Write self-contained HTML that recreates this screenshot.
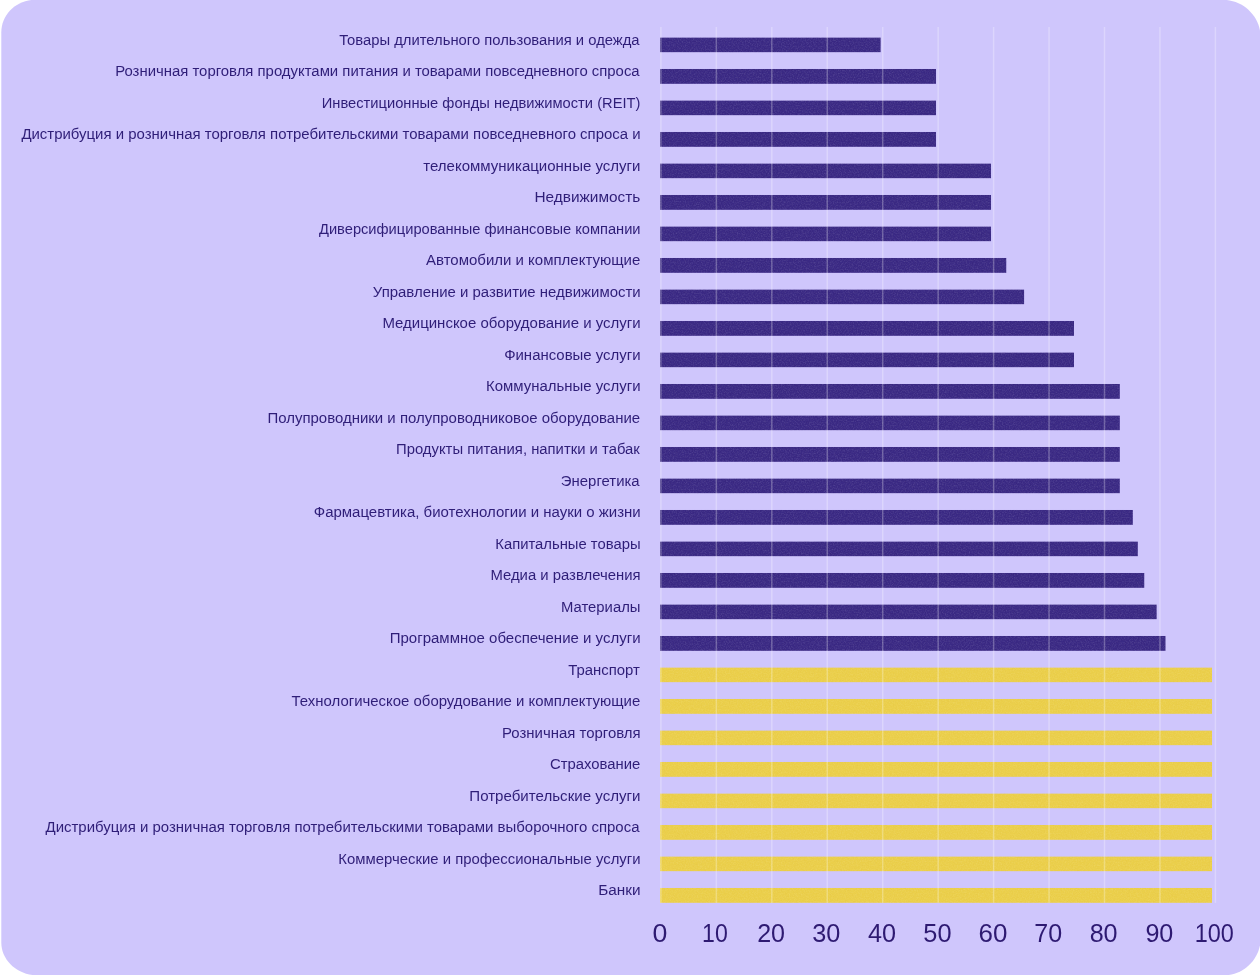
<!DOCTYPE html>
<html lang="ru">
<head>
<meta charset="utf-8">
<title>Chart</title>
<style>
html,body{margin:0;padding:0;background:#fff;}
body{width:1260px;height:975px;overflow:hidden;position:relative;}
svg{position:absolute;left:0;top:0;}
text{font-family:"Liberation Sans",sans-serif;}
.lb{font-size:15.2px;fill:#2F1E78;}
.ax{font-size:25.3px;fill:#2E1A72;}
</style>
</head>
<body>
<svg width="1260" height="975" viewBox="0 0 1260 975">
<path d="M35.30 -0.20 L1222.70 -0.20 C1243.69 -0.20 1260.70 16.81 1260.70 37.80 L1260.70 937.90 C1260.70 958.61 1243.91 975.40 1223.20 975.40 L38.30 975.40 C17.86 975.40 1.30 960.63 1.30 942.40 L1.30 32.30 C1.30 14.35 16.52 -0.20 35.30 -0.20 Z" fill="#CFC6FC"/>
<defs><filter id="grainD" x="0" y="0" width="100%" height="100%" color-interpolation-filters="sRGB"><feTurbulence type="fractalNoise" baseFrequency="0.75" numOctaves="2" seed="7" result="t"/><feColorMatrix in="t" type="matrix" values="0 0 0 0 1  0 0 0 0 1  0 0 0 0 1  0.24 0 0 0 -0.1" result="w"/><feColorMatrix in="t" type="matrix" values="0 0 0 0 0.1  0 0 0 0 0  0 0 0 0 0.25  0 0.24 0 0 -0.1" result="k"/><feMerge result="m"><feMergeNode in="SourceGraphic"/><feMergeNode in="w"/><feMergeNode in="k"/></feMerge><feComposite in="m" in2="SourceGraphic" operator="in"/></filter><filter id="grainY" x="0" y="0" width="100%" height="100%" color-interpolation-filters="sRGB"><feTurbulence type="fractalNoise" baseFrequency="0.75" numOctaves="2" seed="7" result="t"/><feColorMatrix in="t" type="matrix" values="0 0 0 0 1  0 0 0 0 1  0 0 0 0 1  0.2 0 0 0 -0.083" result="w"/><feColorMatrix in="t" type="matrix" values="0 0 0 0 0.75  0 0 0 0 0.55  0 0 0 0 0.15  0 0.15 0 0 -0.062" result="k"/><feMerge result="m"><feMergeNode in="SourceGraphic"/><feMergeNode in="w"/><feMergeNode in="k"/></feMerge><feComposite in="m" in2="SourceGraphic" operator="in"/></filter></defs>
<g filter="url(#grainD)" fill="#3B2A85">
<rect x="660.0" y="37.40" width="220.8" height="15.0"/>
<rect x="660.0" y="68.90" width="276.0" height="15.0"/>
<rect x="660.0" y="100.40" width="276.0" height="15.0"/>
<rect x="660.0" y="131.90" width="276.0" height="15.0"/>
<rect x="660.0" y="163.40" width="331.1" height="15.0"/>
<rect x="660.0" y="194.90" width="331.1" height="15.0"/>
<rect x="660.0" y="226.40" width="331.1" height="15.0"/>
<rect x="660.0" y="257.90" width="346.5" height="15.0"/>
<rect x="660.0" y="289.40" width="364.3" height="15.0"/>
<rect x="660.0" y="320.90" width="414.0" height="15.0"/>
<rect x="660.0" y="352.40" width="414.0" height="15.0"/>
<rect x="660.0" y="383.90" width="459.9" height="15.0"/>
<rect x="660.0" y="415.40" width="459.9" height="15.0"/>
<rect x="660.0" y="446.90" width="459.9" height="15.0"/>
<rect x="660.0" y="478.40" width="459.9" height="15.0"/>
<rect x="660.0" y="509.90" width="472.9" height="15.0"/>
<rect x="660.0" y="541.40" width="477.9" height="15.0"/>
<rect x="660.0" y="572.90" width="484.5" height="15.0"/>
<rect x="660.0" y="604.40" width="496.8" height="15.0"/>
<rect x="660.0" y="635.90" width="505.7" height="15.0"/>
</g>
<g filter="url(#grainY)" fill="#EBCF4A">
<rect x="660.0" y="667.40" width="552.0" height="15.0"/>
<rect x="660.0" y="698.90" width="552.0" height="15.0"/>
<rect x="660.0" y="730.40" width="552.0" height="15.0"/>
<rect x="660.0" y="761.90" width="552.0" height="15.0"/>
<rect x="660.0" y="793.40" width="552.0" height="15.0"/>
<rect x="660.0" y="824.90" width="552.0" height="15.0"/>
<rect x="660.0" y="856.40" width="552.0" height="15.0"/>
<rect x="660.0" y="887.90" width="552.0" height="15.0"/>
</g>
<g fill="#ffffff" fill-opacity="0.27">
<rect x="660.15" y="27" width="1.5" height="875.9"/>
<rect x="715.60" y="27" width="1.5" height="875.9"/>
<rect x="771.05" y="27" width="1.5" height="875.9"/>
<rect x="826.50" y="27" width="1.5" height="875.9"/>
<rect x="881.95" y="27" width="1.5" height="875.9"/>
<rect x="937.40" y="27" width="1.5" height="875.9"/>
<rect x="992.85" y="27" width="1.5" height="875.9"/>
<rect x="1048.30" y="27" width="1.5" height="875.9"/>
<rect x="1103.75" y="27" width="1.5" height="875.9"/>
<rect x="1159.20" y="27" width="1.5" height="875.9"/>
<rect x="1214.65" y="27" width="1.5" height="875.9"/>
</g>
<g class="lb">
<text x="339.18" y="44.90" textLength="300.43" lengthAdjust="spacingAndGlyphs">Товары длительного пользования и одежда</text>
<text x="115.20" y="76.40" textLength="524.46" lengthAdjust="spacingAndGlyphs">Розничная торговля продуктами питания и товарами повседневного спроса</text>
<text x="321.78" y="107.90" textLength="318.62" lengthAdjust="spacingAndGlyphs">Инвестиционные фонды недвижимости (REIT)</text>
<text x="21.39" y="139.40" textLength="619.24" lengthAdjust="spacingAndGlyphs">Дистрибуция и розничная торговля потребительскими товарами повседневного спроса и</text>
<text x="423.24" y="170.90" textLength="217.23" lengthAdjust="spacingAndGlyphs">телекоммуникационные услуги</text>
<text x="534.42" y="202.40" textLength="105.88" lengthAdjust="spacingAndGlyphs">Недвижимость</text>
<text x="319.00" y="233.90" textLength="321.55" lengthAdjust="spacingAndGlyphs">Диверсифицированные финансовые компании</text>
<text x="426.00" y="265.40" textLength="214.28" lengthAdjust="spacingAndGlyphs">Автомобили и комплектующие</text>
<text x="372.84" y="296.90" textLength="267.84" lengthAdjust="spacingAndGlyphs">Управление и развитие недвижимости</text>
<text x="382.39" y="328.40" textLength="258.27" lengthAdjust="spacingAndGlyphs">Медицинское оборудование и услуги</text>
<text x="504.16" y="359.90" textLength="136.44" lengthAdjust="spacingAndGlyphs">Финансовые услуги</text>
<text x="486.00" y="391.40" textLength="154.58" lengthAdjust="spacingAndGlyphs">Коммунальные услуги</text>
<text x="267.48" y="422.90" textLength="372.66" lengthAdjust="spacingAndGlyphs">Полупроводники и полупроводниковое оборудование</text>
<text x="396.00" y="454.40" textLength="243.81" lengthAdjust="spacingAndGlyphs">Продукты питания, напитки и табак</text>
<text x="560.83" y="485.90" textLength="78.79" lengthAdjust="spacingAndGlyphs">Энергетика</text>
<text x="313.76" y="517.40" textLength="326.93" lengthAdjust="spacingAndGlyphs">Фармацевтика, биотехнологии и науки о жизни</text>
<text x="495.31" y="548.90" textLength="145.24" lengthAdjust="spacingAndGlyphs">Капитальные товары</text>
<text x="490.46" y="580.40" textLength="150.04" lengthAdjust="spacingAndGlyphs">Медиа и развлечения</text>
<text x="561.00" y="611.90" textLength="79.46" lengthAdjust="spacingAndGlyphs">Материалы</text>
<text x="389.71" y="643.40" textLength="250.82" lengthAdjust="spacingAndGlyphs">Программное обеспечение и услуги</text>
<text x="568.22" y="674.90" textLength="71.69" lengthAdjust="spacingAndGlyphs">Транспорт</text>
<text x="291.57" y="706.40" textLength="348.63" lengthAdjust="spacingAndGlyphs">Технологическое оборудование и комплектующие</text>
<text x="502.00" y="737.90" textLength="138.62" lengthAdjust="spacingAndGlyphs">Розничная торговля</text>
<text x="550.03" y="769.40" textLength="90.26" lengthAdjust="spacingAndGlyphs">Страхование</text>
<text x="469.31" y="800.90" textLength="171.18" lengthAdjust="spacingAndGlyphs">Потребительские услуги</text>
<text x="45.53" y="832.40" textLength="593.98" lengthAdjust="spacingAndGlyphs">Дистрибуция и розничная торговля потребительскими товарами выборочного спроса</text>
<text x="338.37" y="863.90" textLength="302.19" lengthAdjust="spacingAndGlyphs">Коммерческие и профессиональные услуги</text>
<text x="598.29" y="895.40" textLength="42.32" lengthAdjust="spacingAndGlyphs">Банки</text>
</g>
<g class="ax">
<text x="652.45" y="942.20" textLength="14.86" lengthAdjust="spacingAndGlyphs">0</text>
<text x="702.12" y="942.20" textLength="25.70" lengthAdjust="spacingAndGlyphs">10</text>
<text x="757.13" y="942.20" textLength="27.91" lengthAdjust="spacingAndGlyphs">20</text>
<text x="812.25" y="942.20" textLength="28.11" lengthAdjust="spacingAndGlyphs">30</text>
<text x="868.07" y="942.20" textLength="28.05" lengthAdjust="spacingAndGlyphs">40</text>
<text x="923.32" y="942.20" textLength="28.21" lengthAdjust="spacingAndGlyphs">50</text>
<text x="978.55" y="942.20" textLength="28.86" lengthAdjust="spacingAndGlyphs">60</text>
<text x="1034.36" y="942.20" textLength="27.86" lengthAdjust="spacingAndGlyphs">70</text>
<text x="1089.64" y="942.20" textLength="27.97" lengthAdjust="spacingAndGlyphs">80</text>
<text x="1145.40" y="942.20" textLength="27.97" lengthAdjust="spacingAndGlyphs">90</text>
<text x="1194.72" y="942.20" textLength="39.12" lengthAdjust="spacingAndGlyphs">100</text>
</g>
</svg>
</body>
</html>
